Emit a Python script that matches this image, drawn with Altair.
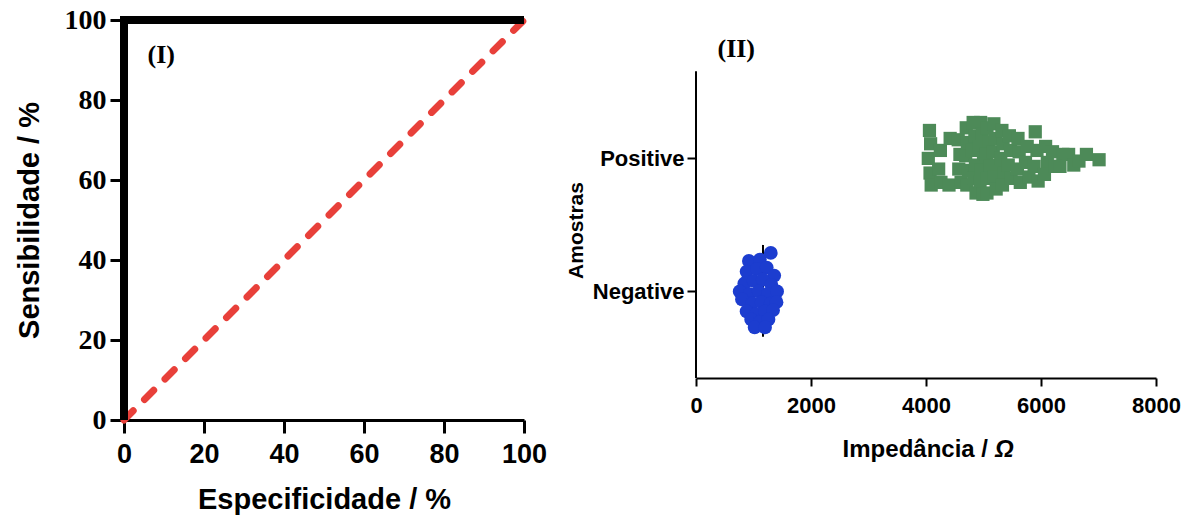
import altair as alt
import pandas as pd

# ---- Panel I: ROC curve -------------------------------------------------
roc_spec = [0, 0, 100]          # Especificidade (%)
roc_sens = [0, 100, 100]        # Sensibilidade (%)
chance_spec = [0, 100]
chance_sens = [0, 100]
pct_ticks = [0, 20, 40, 60, 80, 100]

# ---- Panel II: impedance by sample group --------------------------------
groups = ["Negative", "Positive"]
imp_ticks = [0, 2000, 4000, 6000, 8000]

pos_imp = [4060, 4080, 4040, 4070, 4090, 4250, 4220, 4260, 4420, 4400,
           4560, 4590, 4570, 4610, 4700, 4720, 4690, 4740, 4710, 4820,
           4850, 4800, 4860, 4830, 4870, 4950, 4980, 4930, 5000, 4960,
           4940, 4990, 5060, 5090, 5050, 5110, 5070, 5060, 5180, 5210,
           5170, 5230, 5190, 5220, 5320, 5340, 5300, 5360, 5330, 5450,
           5470, 5430, 5480, 5600, 5620, 5590, 5640, 5760, 5730, 5790,
           5900, 5930, 5880, 5950, 6080, 6110, 6060, 6200, 6240, 6380,
           6330, 6480, 6570, 6660, 6790, 7010]
pos_spread = [0.21, 0.11, 0.00, -0.11, -0.20, 0.06, -0.08, -0.18, 0.15, -0.20,
              0.14, 0.03, -0.08, -0.18, 0.23, 0.12, 0.02, -0.09, -0.20, 0.27,
              0.17, 0.06, -0.05, -0.15, -0.26, 0.27, 0.18, 0.09, 0.00, -0.09,
              -0.18, -0.27, 0.23, 0.12, 0.03, -0.06, -0.15, -0.26, 0.26, 0.15,
              0.05, -0.05, -0.14, -0.23, 0.21, 0.11, 0.00, -0.11, -0.20, 0.17,
              0.06, -0.05, -0.15, 0.15, 0.05, -0.08, -0.18, 0.09, -0.03, -0.14,
              0.20, 0.06, -0.06, -0.17, 0.09, -0.03, -0.12, 0.05, -0.06, 0.03,
              -0.06, 0.03, -0.05, -0.02, 0.03, -0.01]

neg_imp = [920, 1110, 1300, 880, 1060, 1230, 1360, 840, 1000, 1160,
           1310, 760, 930, 1090, 1250, 1410, 800, 980, 1140, 1300,
           1400, 880, 1040, 1200, 1340, 960, 1110, 1260, 1020, 1200]
neg_spread = [0.23, 0.24, 0.29, 0.15, 0.17, 0.18, 0.12, 0.06, 0.08, 0.09,
              0.05, 0.00, -0.02, 0.00, -0.02, 0.00, -0.06, -0.09, -0.08, -0.09,
              -0.08, -0.15, -0.17, -0.15, -0.14, -0.21, -0.23, -0.21, -0.27, -0.27]
neg_median = 1165

SANS = "Liberation Sans"
SERIF = "Liberation Serif"

# ---------------- Panel I ----------------
roc_df = pd.DataFrame({"spec": roc_spec, "sens": roc_sens, "step": [0, 1, 2]})
chance_df = pd.DataFrame({"spec": chance_spec, "sens": chance_sens})

x_pct = alt.X(
    "spec:Q",
    scale=alt.Scale(domain=[0, 100], nice=False),
    axis=alt.Axis(
        values=pct_ticks, title="Especificidade / %", grid=False,
        labelFont=SANS, labelFontSize=27, labelFontWeight="bold", labelColor="black",
        labelPadding=8, labelFlush=False,
        titleFont=SANS, titleFontSize=29, titleFontWeight="bold", titleColor="black",
        titlePadding=18,
        domainColor="black", domainWidth=3, tickColor="black", tickWidth=3, tickSize=13,
    ),
)
y_pct = alt.Y(
    "sens:Q",
    scale=alt.Scale(domain=[0, 100], nice=False),
    axis=alt.Axis(
        values=pct_ticks, title="Sensibilidade / %", grid=False,
        labelFont=SERIF, labelFontSize=28, labelFontWeight="bold", labelColor="black",
        labelPadding=4, labelFlush=False,
        titleFont=SANS, titleFontSize=29, titleFontWeight="bold", titleColor="black",
        titlePadding=20,
        domainColor="black", domainWidth=3, tickColor="black", tickWidth=3, tickSize=14,
    ),
)

chance = alt.Chart(chance_df).mark_line(
    color="#e8403a", strokeWidth=7, strokeDash=[13, 16], strokeCap="round"
).encode(x=x_pct, y=y_pct)

roc = alt.Chart(roc_df).mark_line(
    color="black", strokeWidth=8, strokeJoin="miter"
).encode(x=x_pct, y=y_pct, order="step:Q")

label_i = alt.Chart(pd.DataFrame({"spec": [9.3], "sens": [91.2], "t": ["(I)"]})).mark_text(
    font=SERIF, fontSize=26, fontWeight="bold", color="black", align="center", baseline="middle"
).encode(x=x_pct, y=y_pct, text="t:N")

panel_i = alt.layer(chance, roc, label_i).properties(width=400, height=400)

# ---------------- Panel II ----------------
pos_df = pd.DataFrame({"imp": pos_imp, "spread": pos_spread, "group": "Positive"})
neg_df = pd.DataFrame({"imp": neg_imp, "spread": neg_spread, "group": "Negative"})


def lane_of(df):
    code = {g: i + 1 for i, g in enumerate(groups)}
    return df.assign(lane=df["group"].map(code) + df["spread"])


pos_df = lane_of(pos_df)
neg_df = lane_of(neg_df)

PLOT_II_W, PLOT_II_H = 460, 358

x_imp = alt.X(
    "imp:Q",
    scale=alt.Scale(domain=[0, 8000], nice=False),
    axis=alt.Axis(
        values=imp_ticks, title=None, grid=False, format="d",
        labelFont=SANS, labelFontSize=22, labelFontWeight="bold", labelColor="black",
        labelPadding=9, labelFlush=False,
        domainColor="black", domainWidth=2, tickColor="black", tickWidth=2, tickSize=8,
    ),
)
y_lane = alt.Y(
    "lane:Q",
    scale=alt.Scale(domain=[0.35, 3.04], nice=False, zero=False),
    axis=alt.Axis(
        values=[1, 2], title="Amostras", grid=False, domain=False,
        labelExpr="datum.value == 2 ? 'Positive' : 'Negative'",
        labelFont=SANS, labelFontSize=22, labelFontWeight="bold", labelColor="black",
        labelPadding=3,
        titleFont=SANS, titleFontSize=21, titleFontWeight="bold", titleColor="black",
        titlePadding=6, titleY=210,
        tickColor="black", tickWidth=2, tickSize=9,
    ),
)

axis_line = alt.Chart(pd.DataFrame({"imp": [0], "lane": [0.35], "lane2": [2.654]})).mark_rule(
    color="black", strokeWidth=2
).encode(x=x_imp, y=y_lane, y2="lane2:Q")

median = alt.Chart(pd.DataFrame({"imp": [neg_median], "lane": [0.66], "lane2": [1.35]})).mark_rule(
    color="black", strokeWidth=2
).encode(x=x_imp, y=y_lane, y2="lane2:Q")

neg_pts = alt.Chart(neg_df).mark_circle(
    color="#1c3dcf", size=190, opacity=1
).encode(x=x_imp, y=y_lane)

pos_pts = alt.Chart(pos_df).mark_square(
    color="#4d8a58", size=175, opacity=1
).encode(x=x_imp, y=y_lane)

label_ii = alt.Chart(pd.DataFrame({"imp": [700], "lane": [2.82], "t": ["(II)"]})).mark_text(
    font=SERIF, fontSize=26, fontWeight="bold", color="black", align="center", baseline="middle"
).encode(x=x_imp, y=y_lane, text="t:N")

# x-axis title, with the ohm symbol set in italics
title_main = alt.Chart(pd.DataFrame({"t": ["Impedância /"]})).mark_text(
    font=SANS, fontSize=24, fontWeight="bold", color="black", align="right", baseline="middle"
).encode(x=alt.value(PLOT_II_W / 2 + 62), y=alt.value(PLOT_II_H + 72), text="t:N")
title_unit = alt.Chart(pd.DataFrame({"t": ["Ω"]})).mark_text(
    font=SANS, fontSize=24, fontWeight="bold", fontStyle="italic", color="black",
    align="left", baseline="middle"
).encode(x=alt.value(PLOT_II_W / 2 + 69), y=alt.value(PLOT_II_H + 72), text="t:N")

panel_ii = alt.layer(
    axis_line, median, neg_pts, pos_pts, label_ii, title_main, title_unit
).properties(width=PLOT_II_W, height=PLOT_II_H)

chart = alt.hconcat(panel_i, panel_ii, spacing=172, bounds="flush").properties(
    padding={"left": 15, "top": 4, "right": 5, "bottom": 5},
    background="white",
).configure_view(stroke=None)

chart.save("out.html", embed_options={"renderer": "svg", "actions": False})
